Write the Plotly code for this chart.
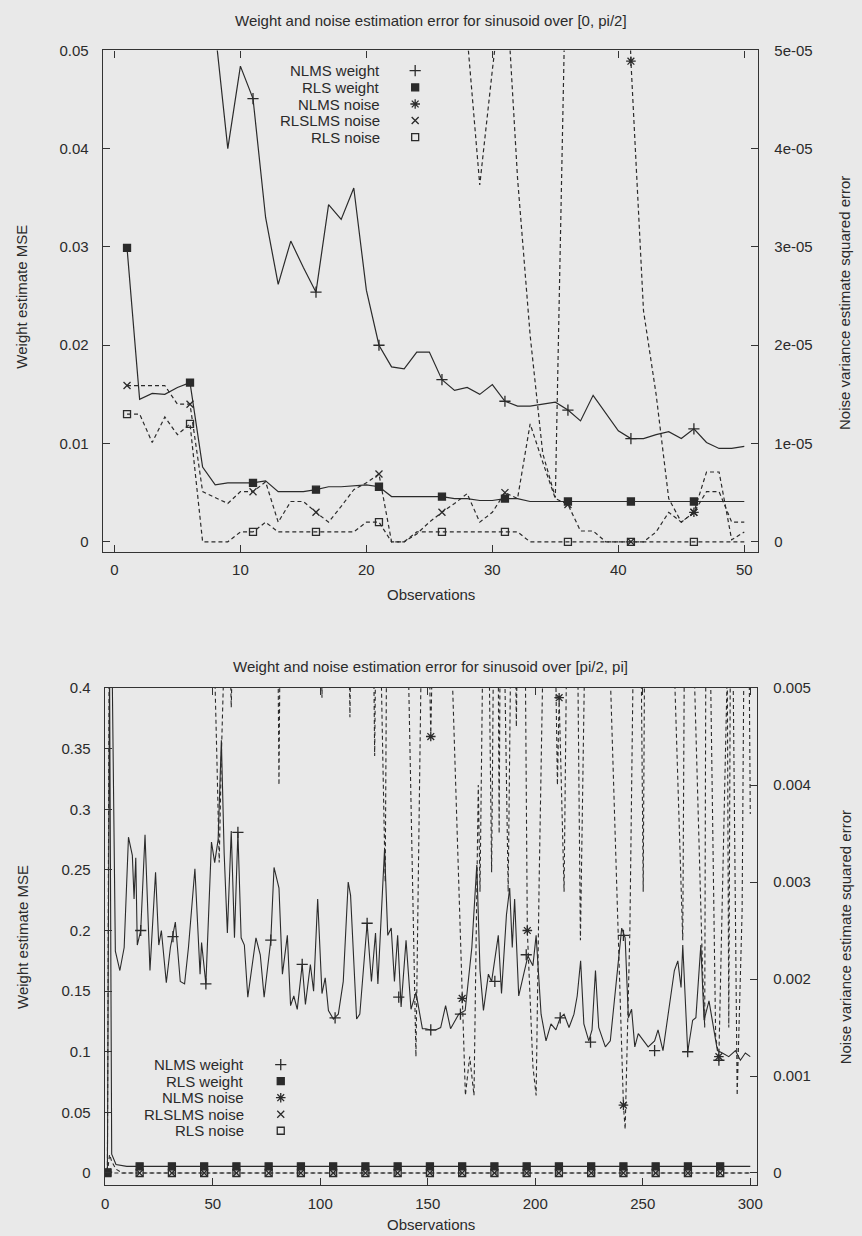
import plotly.graph_objects as go

W, H = 862, 1236

# ---------------- Top chart data (observations 1..50) ----------------
top_obs = list(range(1, 51))
top_nlms_weight = [0.12, 0.11, 0.10, 0.09, 0.08, 0.07, 0.06, 0.052, 0.040, 0.0484,
                   0.0451, 0.033, 0.0262, 0.0306, 0.0279, 0.0254, 0.0343, 0.0328, 0.036, 0.0256,
                   0.020, 0.0178, 0.0176, 0.0193, 0.0193, 0.0165, 0.0154, 0.0157, 0.015, 0.016,
                   0.0143, 0.0138, 0.0138, 0.014, 0.0142, 0.0134, 0.0123, 0.0149, 0.0131, 0.0113,
                   0.0105, 0.0105, 0.0109, 0.0112, 0.0105, 0.0115, 0.0101, 0.0095, 0.0095, 0.0097]
top_rls_weight = [0.0299, 0.0145, 0.0151, 0.015, 0.0157, 0.0162, 0.0076, 0.0058, 0.006, 0.006,
                  0.006, 0.0062, 0.0051, 0.0051, 0.0051, 0.0053, 0.0056, 0.0056, 0.0057, 0.0058,
                  0.0056, 0.0046, 0.0046, 0.0046, 0.0046, 0.0046, 0.0044, 0.0044, 0.0042, 0.0042,
                  0.0044, 0.0044, 0.0041, 0.0041, 0.0041, 0.0041, 0.0041, 0.0041, 0.0041, 0.0041,
                  0.0041, 0.0041, 0.0041, 0.0041, 0.0041, 0.0041, 0.0041, 0.0041, 0.0041, 0.0041]
top_nlms_noise = [9e-05, 9e-05, 9e-05, 9e-05, 9e-05, 9e-05, 9e-05, 9e-05, 9e-05, 9e-05,
                  9e-05, 9e-05, 9e-05, 9e-05, 9e-05, 9e-05, 9e-05, 9e-05, 9e-05, 9e-05,
                  9e-05, 9e-05, 9e-05, 9e-05, 9e-05, 9e-05, 9e-05, 5.15e-05, 3.63e-05, 4.8e-05,
                  5.9e-05, 3.7e-05, 2.1e-05, 0.9e-05, 0.45e-05, 6.97e-05, 9e-05, 9e-05, 9e-05, 9e-05,
                  4.89e-05, 2.35e-05, 1.5e-05, 0.44e-05, 0.2e-05, 0.3e-05, 0.71e-05, 0.71e-05, 0.02e-05, 0.1e-05]
top_rlslms_noise = [1.59e-05, 1.59e-05, 1.59e-05, 1.59e-05, 1.40e-05, 1.40e-05, 0.51e-05, 0.45e-05, 0.39e-05, 0.51e-05,
                    0.51e-05, 0.61e-05, 0.20e-05, 0.41e-05, 0.41e-05, 0.30e-05, 0.20e-05, 0.36e-05, 0.53e-05, 0.60e-05,
                    0.69e-05, 0.0, 0.0, 0.08e-05, 0.20e-05, 0.30e-05, 0.39e-05, 0.49e-05, 0.20e-05, 0.30e-05,
                    0.50e-05, 0.44e-05, 1.20e-05, 0.81e-05, 0.44e-05, 0.38e-05, 0.11e-05, 0.11e-05, 0.0, 0.0,
                    0.0, 0.0, 0.10e-05, 0.30e-05, 0.20e-05, 0.30e-05, 0.51e-05, 0.51e-05, 0.20e-05, 0.20e-05]
top_rls_noise = [1.3e-05, 1.3e-05, 1.01e-05, 1.27e-05, 1.09e-05, 1.2e-05, 0.0, 0.0, 0.0, 0.1e-05,
                 0.1e-05, 0.2e-05, 0.1e-05, 0.1e-05, 0.1e-05, 0.1e-05, 0.1e-05, 0.1e-05, 0.1e-05, 0.2e-05,
                 0.2e-05, 0.0, 0.0, 0.1e-05, 0.1e-05, 0.1e-05, 0.1e-05, 0.1e-05, 0.1e-05, 0.1e-05,
                 0.1e-05, 0.1e-05, 0.0, 0.0, 0.0, 0.0, 0.0, 0.0, 0.0, 0.0,
                 0.0, 0.0, 0.0, 0.0, 0.0, 0.0, 0.0, 0.0, 0.0, 0.0]

top_xticks = [0, 10, 20, 30, 40, 50]
top_yticks = [0, 0.01, 0.02, 0.03, 0.04, 0.05]
top_yticklabels = ["0", "0.01", "0.02", "0.03", "0.04", "0.05"]
top_y2ticks = [0, 1e-05, 2e-05, 3e-05, 4e-05, 5e-05]
top_y2ticklabels = ["0", "1e-05", "2e-05", "3e-05", "4e-05", "5e-05"]

# ---------------- Bottom chart data (read vertices: observation, value) ----------------
bot_nlms_weight = [
    (1, 0.6), (2, 0.5), (3, 0.45), (4.7, 0.183), (6.8, 0.167), (8.8, 0.186), (10.8, 0.277), (12.6, 0.262),
    (13.4, 0.226), (14.2, 0.26), (14.9, 0.188), (16.5, 0.2), (18.5, 0.279), (20.8, 0.167), (23.4, 0.248),
    (24.9, 0.188), (26.1, 0.2), (28.4, 0.157), (30.3, 0.186), (32.6, 0.207), (34.9, 0.158), (36.9, 0.156),
    (38.7, 0.186), (41.7, 0.251), (44.1, 0.164), (44.8, 0.19), (46.8, 0.156), (49.4, 0.273), (50.9, 0.256),
    (52.5, 0.275), (54.0, 0.357), (55.3, 0.264), (56.8, 0.198), (58.6, 0.282), (60.1, 0.194), (61.7, 0.281),
    (63.2, 0.194), (64.7, 0.188), (66.3, 0.145), (70.1, 0.194), (72.1, 0.18), (73.9, 0.145), (77.0, 0.192),
    (78.5, 0.252), (80.8, 0.235), (82.4, 0.164), (84.7, 0.196), (86.2, 0.138), (87.7, 0.146), (89.3, 0.135),
    (91.6, 0.172), (93.1, 0.139), (95.4, 0.172), (96.9, 0.15), (98.8, 0.226), (100.8, 0.148), (102.3, 0.161),
    (103.8, 0.134), (106.1, 0.127), (108.4, 0.131), (110.7, 0.158), (113.0, 0.24), (114.1, 0.229),
    (116.9, 0.127), (118.4, 0.131), (121.8, 0.206), (123.8, 0.158), (125.7, 0.198), (126.8, 0.156),
    (129.9, 0.267), (131.4, 0.196), (133.0, 0.202), (134.5, 0.158), (136.0, 0.196), (137.6, 0.137),
    (139.9, 0.192), (142.2, 0.135), (144.5, 0.149), (147.5, 0.119), (149.1, 0.119), (151.4, 0.118),
    (153.6, 0.118), (156.0, 0.12), (158.3, 0.138), (160.6, 0.119), (162.9, 0.126), (164.4, 0.131),
    (167.4, 0.134), (170.5, 0.186), (172.8, 0.254), (174.3, 0.167), (175.9, 0.134), (178.2, 0.164),
    (179.7, 0.158), (182.8, 0.196), (184.3, 0.148), (186.6, 0.213), (188.1, 0.235), (189.3, 0.186),
    (190.4, 0.226), (192.3, 0.146), (195.0, 0.167), (196.6, 0.179), (198.9, 0.171), (200.4, 0.196),
    (202.7, 0.131), (205.0, 0.109), (207.3, 0.123), (209.6, 0.118), (211.6, 0.128), (213.4, 0.131),
    (215.7, 0.12), (218.0, 0.131), (219.5, 0.146), (221.1, 0.175), (222.6, 0.123), (224.9, 0.109),
    (226.4, 0.118), (228.0, 0.167), (229.5, 0.12), (232.6, 0.104), (234.9, 0.109), (237.9, 0.164),
    (240.2, 0.202), (241.8, 0.194), (243.3, 0.128), (244.8, 0.135), (246.3, 0.104), (247.9, 0.115),
    (250.2, 0.109), (252.5, 0.104), (255.5, 0.109), (257.1, 0.118), (259.4, 0.101), (261.7, 0.131),
    (264.7, 0.167), (266.3, 0.175), (267.8, 0.153), (268.6, 0.188), (270.9, 0.1), (273.2, 0.126),
    (274.7, 0.128), (277.0, 0.188), (278.5, 0.126), (280.8, 0.142), (283.1, 0.118), (284.7, 0.101),
    (287.0, 0.099), (290.0, 0.096), (293.1, 0.101), (295.4, 0.093), (297.7, 0.099), (300.0, 0.096)]
bot_nlms_weight_marks = [(16.5, 0.2), (31.5, 0.195), (46.8, 0.156), (61.7, 0.281), (77.0, 0.192),
                         (91.6, 0.172), (106.9, 0.128), (121.8, 0.206), (136.5, 0.145), (151.4, 0.118),
                         (165.2, 0.131), (181.2, 0.158), (195.8, 0.18), (211.6, 0.128), (225.7, 0.108),
                         (241.0, 0.196), (255.5, 0.101), (270.9, 0.1), (285.4, 0.093)]
bot_rls_weight = [(1, 0.0005), (2, 0.42), (3, 0.0155), (4, 0.011), (5, 0.007), (10, 0.0055), (300, 0.0055)]
bot_rls_weight_marks = [(1, 0.0005), (16, 0.0055), (31, 0.0055), (46, 0.0055), (61, 0.0055), (76, 0.0055),
                        (91, 0.0055), (106, 0.0055), (121, 0.0055), (136, 0.0055), (151, 0.0055),
                        (166, 0.0055), (181, 0.0055), (196, 0.0055), (211, 0.0055), (226, 0.0055),
                        (241, 0.0055), (256, 0.0055), (271, 0.0055), (286, 0.0055)]
bot_nlms_noise = [
    (1, 0.00001), (2, 0.0065), (50, 0.0065), (51, 0.0051), (52, 0.0042), (53, 0.0032), (54, 0.0043),
    (55, 0.0051), (58.2, 0.0052), (58.6, 0.0048), (59.0, 0.0052), (80.4, 0.0052), (80.8, 0.0040),
    (81.2, 0.0052), (100.6, 0.0052), (100.8, 0.0049), (101.0, 0.0052), (113.5, 0.0052), (113.8, 0.0047),
    (114.1, 0.0052), (124.9, 0.0052), (125.3, 0.0043), (125.7, 0.0052), (128.3, 0.0052), (130.2, 0.0030),
    (130.8, 0.0052), (141.0, 0.0052), (144.5, 0.0012), (146.9, 0.0052), (150.8, 0.0052), (151.4, 0.0045),
    (152.0, 0.0052), (161.3, 0.0052), (167.5, 0.0008), (169.5, 0.0012), (171.5, 0.0008), (173.5, 0.0040),
    (174.3, 0.0029), (175.5, 0.0052), (178.6, 0.0052), (179.7, 0.0031), (180.5, 0.0052), (182.8, 0.0052),
    (183.2, 0.0035), (183.6, 0.0052), (185.8, 0.0052), (187.4, 0.0029), (188.5, 0.0052), (190.9, 0.0052),
    (191.2, 0.0046), (191.5, 0.0052), (195.4, 0.0052), (196.3, 0.0025), (198.9, 0.0011), (200.4, 0.0008),
    (201.8, 0.0030), (203.5, 0.0052), (209.5, 0.0052), (210.3, 0.0040), (211.1, 0.0049), (213.4, 0.0029),
    (214.5, 0.0052), (219.8, 0.0052), (221.0, 0.0024), (222.9, 0.0052), (234.8, 0.0052), (241.0, 0.0007),
    (241.8, 0.00045), (244.0, 0.0025), (245.5, 0.0052), (249.3, 0.0052), (250.2, 0.0029), (250.8, 0.0052),
    (264.7, 0.0052), (268.6, 0.0024), (269.3, 0.0052), (273.9, 0.0052), (277.8, 0.0021), (278.8, 0.0015),
    (279.3, 0.0052), (281.5, 0.0052), (283.9, 0.0014), (285.4, 0.0012), (289.3, 0.0052), (290.0, 0.0015),
    (290.7, 0.0052), (292.0, 0.0052), (293.9, 0.0008), (296.2, 0.0027), (297.0, 0.0052), (299.5, 0.0052),
    (300.0, 0.0037)]
bot_nlms_noise_marks = [(1, 0.00001), (151.4, 0.0045), (166.0, 0.0018), (196.3, 0.0025), (211.1, 0.0049),
                        (241.0, 0.0007), (285.4, 0.0012)]
bot_rlslms_noise = [(1, 0.0), (2, 0.00019), (3, 0.00012), (5, 0.00004), (8, 0.0), (300, 0.0)]
bot_rls_noise = [(1, 0.0), (300, 0.0)]
bot_noise_marks_x = [1, 16, 31, 46, 61, 76, 91, 106, 121, 136, 151, 166, 181, 196, 211, 226, 241, 256, 271, 286]
bot_rlslms_noise_marks = [0.0] * 20
bot_rls_noise_marks = [0.0] * 20

bot_xticks = [0, 50, 100, 150, 200, 250, 300]
bot_yticks = [0, 0.05, 0.1, 0.15, 0.2, 0.25, 0.3, 0.35, 0.4]
bot_yticklabels = ["0", "0.05", "0.1", "0.15", "0.2", "0.25", "0.3", "0.35", "0.4"]
bot_y2ticks = [0, 0.001, 0.002, 0.003, 0.004, 0.005]
bot_y2ticklabels = ["0", "0.001", "0.002", "0.003", "0.004", "0.005"]

legend_labels = ["NLMS weight", "RLS weight", "NLMS noise", "RLSLMS noise", "RLS noise"]
titles = ["Weight and noise estimation error for sinusoid over [0, pi/2]",
          "Weight and noise estimation error for sinusoid over [pi/2, pi]"]

# ---------------- styling ----------------
BG = "#e9e9e9"
INK = "#2b2b2b"
FONT = "Liberation Sans"
FS = 15
DASH = "4px,3px"
SYMBOLS = ["cross-thin", "square", "asterisk", "x-thin", "square-open"]
MSIZE = [8, 7, 8, 7, 7]


def marker(i):
    return dict(symbol=SYMBOLS[i], size=MSIZE[i], color=INK,
                line=dict(color=INK, width=1.3))


def unzip(pairs):
    return [p[0] for p in pairs], [p[1] for p in pairs]


fig = go.Figure()

# ---- top chart traces ----
top_series = [(top_nlms_weight, "y", "solid"), (top_rls_weight, "y", "solid"),
              (top_nlms_noise, "y2", DASH), (top_rlslms_noise, "y2", DASH), (top_rls_noise, "y2", DASH)]
for i, (vals, ya, dash) in enumerate(top_series):
    fig.add_trace(go.Scatter(x=top_obs, y=vals, xaxis="x", yaxis=ya, mode="lines",
                             line=dict(color=INK, width=1.2, dash=dash), showlegend=False, hoverinfo="skip"))
    fig.add_trace(go.Scatter(x=top_obs[::5], y=vals[::5], xaxis="x", yaxis=ya, mode="markers",
                             marker=marker(i), showlegend=False, hoverinfo="skip"))

# ---- bottom chart traces ----
bot_lines = [(bot_nlms_weight, "y3", "solid"), (bot_rls_weight, "y3", "solid"),
             (bot_nlms_noise, "y4", DASH), (bot_rlslms_noise, "y4", DASH), (bot_rls_noise, "y4", DASH)]
for vals, ya, dash in bot_lines:
    xs, ys = unzip(vals)
    fig.add_trace(go.Scatter(x=xs, y=ys, xaxis="x2", yaxis=ya, mode="lines",
                             line=dict(color=INK, width=1.1, dash=dash), showlegend=False, hoverinfo="skip"))

bot_marks = [(unzip(bot_nlms_weight_marks), "y3"), (unzip(bot_rls_weight_marks), "y3"),
             (unzip(bot_nlms_noise_marks), "y4"), ((bot_noise_marks_x, bot_rlslms_noise_marks), "y4"),
             ((bot_noise_marks_x, bot_rls_noise_marks), "y4")]
for i, ((xs, ys), ya) in enumerate(bot_marks):
    fig.add_trace(go.Scatter(x=xs, y=ys, xaxis="x2", yaxis=ya, mode="markers",
                             marker=marker(i), showlegend=False, hoverinfo="skip"))

# ---- legend keys (overlay axis in pixel units) ----
legend_boxes = [dict(text_right=382, mark_x=416, rows=[62, 79, 95.7, 112.3, 129]),
                dict(text_right=245, mark_x=280, rows=[1063.3, 1080, 1096.7, 1113.3, 1130])]
for box in legend_boxes:
    for i, row in enumerate(box["rows"]):
        fig.add_trace(go.Scatter(x=[box["mark_x"]], y=[row], xaxis="x3", yaxis="y5", mode="markers",
                                 marker=marker(i), showlegend=False, hoverinfo="skip", cliponaxis=False))

# ---------------- layout ----------------
def fx(p):
    return p / W


def fy(p):
    return 1 - p / H


axis_common = dict(showline=True, linecolor="#333333", linewidth=1.3, ticks="inside", ticklen=7,
                   tickcolor="#333333", tickwidth=1.2, showgrid=False, zeroline=False,
                   tickfont=dict(family=FONT, size=FS, color=INK))

top_dom_x = [fx(100), fx(763)]
top_dom_y = [fy(546.7), fy(41.7)]
bot_dom_x = [fx(102), fx(762)]
bot_dom_y = [fy(1185), fy(684)]

fig.update_layout(
    width=W, height=H, margin=dict(l=0, r=0, t=0, b=0),
    paper_bgcolor=BG, plot_bgcolor="rgba(0,0,0,0)", showlegend=False,
    xaxis=dict(domain=top_dom_x, anchor="y", range=[-0.92, 51.1], tickvals=top_xticks,
               mirror="ticks", ticklabelstandoff=4, **axis_common),
    yaxis=dict(domain=top_dom_y, anchor="x", range=[-0.00101, 0.05], tickvals=top_yticks,
               ticktext=top_yticklabels, ticklabelstandoff=10, **axis_common),
    yaxis2=dict(overlaying="y", anchor="x", side="right", range=[-0.00101e-3, 0.05e-3],
                tickvals=top_y2ticks, ticktext=top_y2ticklabels, ticklabelstandoff=12, **axis_common),
    xaxis2=dict(domain=bot_dom_x, anchor="y3", range=[-0.2, 303.2], tickvals=bot_xticks,
                mirror="ticks", ticklabelstandoff=4, **axis_common),
    yaxis3=dict(domain=bot_dom_y, anchor="x2", range=[-0.0102, 0.4], tickvals=bot_yticks,
                ticktext=bot_yticklabels, ticklabelstandoff=10, **axis_common),
    yaxis4=dict(overlaying="y3", anchor="x2", side="right", range=[-0.0102 / 80, 0.005],
                tickvals=bot_y2ticks, ticktext=bot_y2ticklabels, ticklabelstandoff=12, **axis_common),
    xaxis3=dict(domain=[0, 1], anchor="y5", range=[0, W], visible=False, fixedrange=True),
    yaxis5=dict(domain=[0, 1], anchor="x3", range=[H, 0], visible=False, fixedrange=True),
)

ann = []


def text(x, y, s, xanchor="center", angle=0):
    ann.append(dict(x=fx(x), y=fy(y), xref="paper", yref="paper", text=s, showarrow=False,
                    xanchor=xanchor, yanchor="middle", textangle=angle,
                    font=dict(family=FONT, size=FS, color=INK)))


text(432, 12, titles[0])
text(432, 662, titles[1])
text(432, 590, "Observations")
text(432, 1224, "Observations")
text(18, 290, "Weight estimate MSE", angle=-90)
text(18, 935, "Weight estimate MSE", angle=-90)
text(851, 296, "Noise variance estimate squared error", angle=-90)
text(851, 935, "Noise variance estimate squared error", angle=-90)
for box in legend_boxes:
    for lab, row in zip(legend_labels, box["rows"]):
        text(box["text_right"], row, lab, xanchor="right")

fig.update_layout(annotations=ann)
fig.write_html("out.html", config={"displayModeBar": False},
               post_script="document.body.style.margin='0';document.body.style.background='%s';" % BG)
